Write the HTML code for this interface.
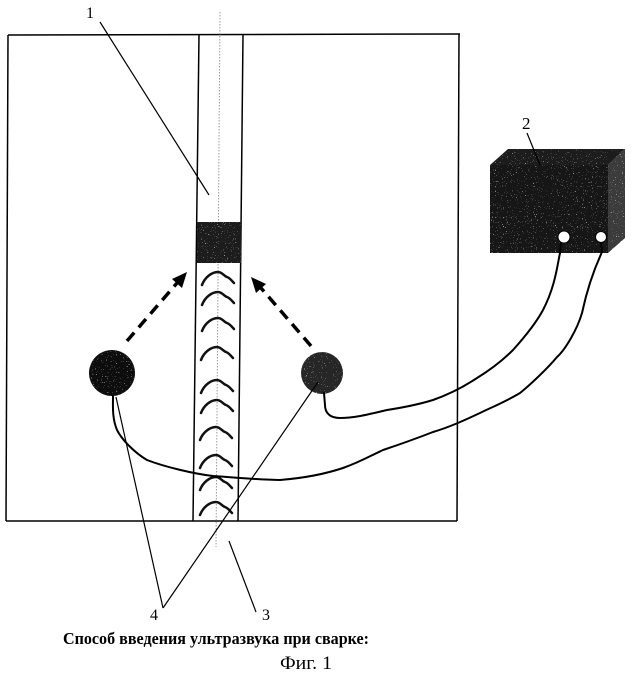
<!DOCTYPE html>
<html><head><meta charset="utf-8"><style>
html,body{margin:0;padding:0;background:#fff;}
svg{display:block;}
</style></head><body>
<svg width="632" height="677" viewBox="0 0 632 677" xmlns="http://www.w3.org/2000/svg">
<defs>
<filter id="spk" x="0" y="0" width="100%" height="100%">
<feTurbulence type="fractalNoise" baseFrequency="0.9" numOctaves="1" seed="3" result="n"/>
<feColorMatrix in="n" type="matrix" values="0 0 0 0 1  0 0 0 0 1  0 0 0 0 1  0 0 0 9 -6.2" result="w"/>
<feComposite in="w" in2="SourceGraphic" operator="in" result="wc"/>
<feMerge><feMergeNode in="SourceGraphic"/><feMergeNode in="wc"/></feMerge>
</filter>
</defs>
<!-- outer rectangle -->
<g stroke="#000" stroke-width="1.5" fill="none">
<line x1="8" y1="35" x2="460" y2="34"/>
<line x1="8" y1="35" x2="6" y2="521"/>
<line x1="459" y1="34" x2="457" y2="521"/>
<line x1="6" y1="521" x2="457" y2="521"/>
<!-- strip -->
<line x1="199" y1="35" x2="193" y2="521"/>
<line x1="243" y1="35" x2="238" y2="521"/>
</g>
<!-- dotted center line -->
<line x1="220" y1="12" x2="216" y2="547" stroke="#999" stroke-width="1" stroke-dasharray="1.5 1.5"/>
<!-- dark block -->
<rect x="197" y="222" width="44" height="41" fill="#1a1a1a" filter="url(#spk)"/>
<!-- chevrons -->
<g stroke="#111" stroke-width="2.5" fill="none" stroke-linecap="round">
<path d="M-16 13 C-13 5 -6 0 0 0 C4 0 6 4 9 5 C12 6 14 9 16 11" transform="translate(218,272)"/>
<path d="M-16 13 C-13 5 -6 0 0 0 C4 0 6 4 9 5 C12 6 14 9 16 11" transform="translate(218,292)"/>
<path d="M-16 13 C-13 5 -6 0 0 0 C4 0 6 4 9 5 C12 6 14 9 16 11" transform="translate(218,318)"/>
<path d="M-16 13 C-13 5 -6 0 0 0 C4 0 6 4 9 5 C12 6 14 9 16 11" transform="translate(217,347)"/>
<path d="M-16 13 C-13 5 -6 0 0 0 C4 0 6 4 9 5 C12 6 14 9 16 11" transform="translate(217,380)"/>
<path d="M-16 13 C-13 5 -6 0 0 0 C4 0 6 4 9 5 C12 6 14 9 16 11" transform="translate(217,400)"/>
<path d="M-16 13 C-13 5 -6 0 0 0 C4 0 6 4 9 5 C12 6 14 9 16 11" transform="translate(216,427)"/>
<path d="M-16 13 C-13 5 -6 0 0 0 C4 0 6 4 9 5 C12 6 14 9 16 11" transform="translate(216,455)"/>
<path d="M-16 13 C-13 5 -6 0 0 0 C4 0 6 4 9 5 C12 6 14 9 16 11" transform="translate(216,477)"/>
<path d="M-16 13 C-13 5 -6 0 0 0 C4 0 6 4 9 5 C12 6 14 9 16 11" transform="translate(216,502)"/>
</g>
<!-- dashed arrows -->
<g stroke="#000" stroke-width="3.5" stroke-dasharray="11 7" fill="none">
<line x1="127" y1="341" x2="177" y2="283"/>
<line x1="311" y1="346" x2="261" y2="288"/>
</g>
<polygon points="187,272 182,288 172,279" fill="#000"/>
<polygon points="251,277 266,284 256,293" fill="#000"/>
<!-- circles -->
<circle cx="112" cy="373" r="23" fill="#0e0e0e" filter="url(#spk)"/>
<circle cx="322" cy="373" r="21" fill="#262626" filter="url(#spk)"/>
<!-- box 2 -->
<polygon points="490,165 508,149 625,149 608,165" fill="#1c1c1c" filter="url(#spk)"/>
<polygon points="608,165 625,149 625,238 608,253" fill="#3a3a3a" filter="url(#spk)"/>
<rect x="490" y="165" width="118" height="88" fill="#161616" filter="url(#spk)"/>
<circle cx="564" cy="237" r="6" fill="#fff" stroke="#000" stroke-width="1"/>
<circle cx="601" cy="237" r="5.5" fill="#fff" stroke="#000" stroke-width="1"/>
<!-- wires -->
<g stroke="#000" stroke-width="2" fill="none" stroke-linecap="round">
<path d="M561,243 L560,253 C557,267 555,287 543,310 C535,325 522,340 513,350 C503,360 490,370 477,378 C465,386 450,394 433,400 C420,404 400,408 387,410 C370,414 355,418 340,418 C330,418 325,413 325,405 L324,393"/>
<path d="M601,243 L602,252 C596,265 588,285 582,313 C577,330 565,350 557,357 C548,368 530,385 520,393 C505,402 490,408 480,413 C465,420 450,427 433,432 C415,439 398,445 383,450 C370,456 360,462 343,468 C325,474 305,478 280,480 C260,480 230,477 213,476 C195,474 165,467 147,460 C135,453 122,440 117,430 C112,418 113,406 113,396"/>
</g>
<!-- leader lines -->
<g stroke="#000" stroke-width="1.2" fill="none">
<line x1="100" y1="22" x2="209" y2="195"/>
<line x1="527" y1="133" x2="540" y2="165"/>
<line x1="163" y1="608" x2="116" y2="397"/>
<line x1="163" y1="608" x2="318" y2="382"/>
<line x1="229" y1="541" x2="256" y2="612"/>
</g>
<!-- labels -->
<g font-family="'Liberation Serif', serif" fill="#000">
<text x="86" y="18" font-size="16">1</text>
<text x="522" y="129" font-size="17">2</text>
<text x="150" y="620" font-size="16">4</text>
<text x="262" y="620" font-size="16">3</text>
<text x="63" y="644" font-size="16.5" font-weight="bold" textLength="306" lengthAdjust="spacingAndGlyphs" font-family="'Liberation Serif', 'Noto Serif CJK SC', serif">Способ введения ультразвука при сварке:</text>
<text x="280" y="669" font-size="19" textLength="52" lengthAdjust="spacingAndGlyphs" font-family="'Liberation Serif', 'Noto Serif CJK SC', serif">Фиг. 1</text>
</g>
</svg>
</body></html>
